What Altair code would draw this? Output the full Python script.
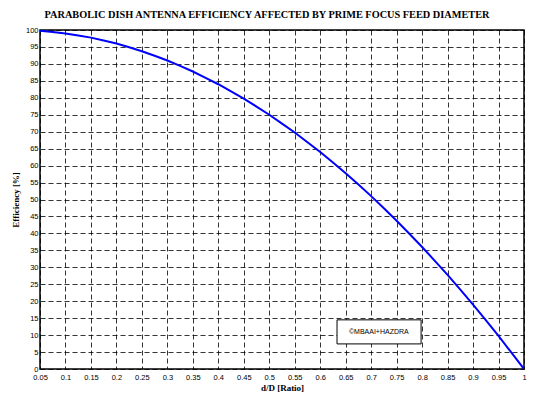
import altair as alt
import pandas as pd

ratio = [0.05, 0.075, 0.1, 0.125, 0.15, 0.175, 0.2, 0.225, 0.25, 0.275, 0.3, 0.325,
         0.35, 0.375, 0.4, 0.425, 0.45, 0.475, 0.5, 0.525, 0.55, 0.575, 0.6, 0.625,
         0.65, 0.675, 0.7, 0.725, 0.75, 0.775, 0.8, 0.825, 0.85, 0.875, 0.9, 0.925,
         0.95, 0.975, 1.0]
efficiency = [99.75, 99.4, 99.0, 98.4, 97.75, 96.9, 96.0, 94.9, 93.75, 92.4, 91.0, 89.4,
              87.75, 85.9, 84.0, 81.9, 79.75, 77.4, 75.0, 72.4, 69.75, 66.9, 64.0, 60.9,
              57.75, 54.4, 51.0, 47.4, 43.75, 39.9, 36.0, 31.9, 27.75, 23.4, 19.0, 14.4,
              9.75, 4.9, 0.0]

x_ticks = [0.05, 0.1, 0.15, 0.2, 0.25, 0.3, 0.35, 0.4, 0.45, 0.5, 0.55, 0.6, 0.65,
           0.7, 0.75, 0.8, 0.85, 0.9, 0.95, 1.0]
y_ticks = [0, 5, 10, 15, 20, 25, 30, 35, 40, 45, 50, 55, 60, 65, 70, 75, 80, 85, 90, 95, 100]

note_text = ["©MBAAI+HAZDRA"]
note_box_x = [0.633]
note_box_x2 = [0.798]
note_box_y = [14.5]
note_box_y2 = [7.4]
note_x = [0.715]
note_y = [10.9]

df = pd.DataFrame({"ratio": ratio, "eff": efficiency})
box_df = pd.DataFrame({"x": note_box_x, "x2": note_box_x2, "y": note_box_y, "y2": note_box_y2})
txt_df = pd.DataFrame({"x": note_x, "y": note_y, "t": note_text})

xscale = alt.Scale(domain=[0.05, 1.0], nice=False, zero=False)
yscale = alt.Scale(domain=[0, 100], nice=False)

xaxis = alt.Axis(values=x_ticks, format=".2~f", title="d/D [Ratio]",
                 grid=True, gridColor="black", gridDash=[5, 3], gridOpacity=1, gridWidth=0.8,
                 labelFont="Liberation Sans", labelFontSize=7.5, labelColor="black",
                 titleFont="Liberation Serif", titleFontSize=9, titleFontWeight="bold",
                 titleColor="black", titlePadding=3, labelPadding=4,
                 ticks=False, domain=False, labelFlush=False, labelOverlap=False)
yaxis = alt.Axis(values=y_ticks, title="Efficiency [%]",
                 grid=True, gridColor="black", gridDash=[5, 3], gridOpacity=1, gridWidth=0.8,
                 labelFont="Liberation Sans", labelFontSize=7.5, labelColor="black",
                 titleFont="Liberation Serif", titleFontSize=9, titleFontWeight="bold",
                 titleColor="black", titlePadding=5, labelPadding=2,
                 ticks=False, domain=False, labelFlush=False, labelOverlap=False)

line = alt.Chart(df).mark_line(color="#0000FF", strokeWidth=2, clip=True).encode(
    x=alt.X("ratio:Q", scale=xscale, axis=xaxis),
    y=alt.Y("eff:Q", scale=yscale, axis=yaxis),
)

box = alt.Chart(box_df).mark_rect(fill="white", stroke="black", strokeWidth=1).encode(
    x=alt.X("x:Q", scale=xscale, axis=xaxis), x2="x2:Q",
    y=alt.Y("y:Q", scale=yscale, axis=yaxis), y2="y2:Q",
)

txt = alt.Chart(txt_df).mark_text(font="Liberation Sans", fontSize=7, color="black").encode(
    x=alt.X("x:Q", scale=xscale, axis=xaxis), y=alt.Y("y:Q", scale=yscale, axis=yaxis), text="t:N"
)

chart = alt.layer(line, box, txt).properties(
    width=484, height=339,
    title=alt.TitleParams(
        "PARABOLIC DISH ANTENNA EFFICIENCY AFFECTED BY PRIME FOCUS FEED DIAMETER",
        font="Liberation Serif", fontSize=10.3, fontWeight="bold", color="black",
        anchor="middle", dx=-15, offset=6),
    autosize=alt.AutoSizeParams(type="none"),
    padding={"left": 32, "top": 22, "right": 19, "bottom": 30},
    background="white",
).configure_view(stroke="black", strokeWidth=1.5)

chart.save("out.html", embed_options={"renderer": "svg", "actions": False})
